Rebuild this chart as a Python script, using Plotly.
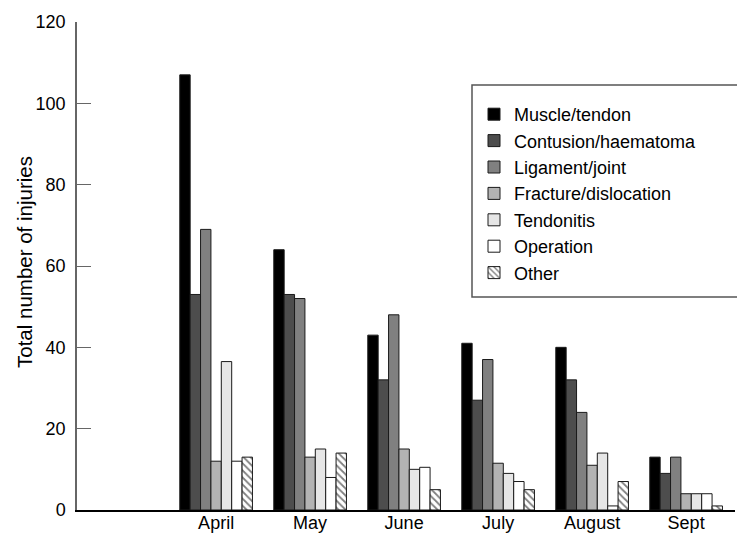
import plotly.graph_objects as go

months = ["April", "May", "June", "July", "August", "Sept"]
categories = ["Muscle/tendon", "Contusion/haematoma", "Ligament/joint",
              "Fracture/dislocation", "Tendonitis", "Operation", "Other"]

muscle_tendon = [107, 64, 43, 41, 40, 13]
contusion_haematoma = [53, 53, 32, 27, 32, 9]
ligament_joint = [69, 52, 48, 37, 24, 13]
fracture_dislocation = [12, 13, 15, 11.5, 11, 4]
tendonitis = [36.5, 15, 10, 9, 14, 4]
operation = [12, 8, 10.5, 7, 1, 4]
other = [13, 14, 5, 5, 7, 1]

series = [muscle_tendon, contusion_haematoma, ligament_joint,
          fracture_dislocation, tendonitis, operation, other]
colors = ["#000000", "#4d4d4d", "#808080", "#b3b3b3", "#e6e6e6", "#ffffff", "#ffffff"]

x_pos = list(range(1, len(months) + 1))

FONT = "Liberation Sans, Arial, Helvetica, sans-serif"

fig = go.Figure()
for name, vals, col in zip(categories, series, colors):
    marker = dict(color=col, line=dict(color="#1a1a1a", width=1))
    if name == "Other":
        marker["pattern"] = dict(shape="\\", fgcolor="#000000", bgcolor="#ffffff",
                                 size=5, solidity=0.35)
    fig.add_trace(go.Bar(x=x_pos, y=vals, name=name, marker=marker))

W, H = 737, 533
L, R, T, B = 77, 2, 22, 23
pw, ph = W - L - R, H - T - B

def px_x(px):
    return (px - L) / pw

def px_y(py):
    return (H - B - py) / ph

fig.update_layout(
    width=W, height=H,
    margin=dict(l=L, r=R, t=T, b=B, autoexpand=False),
    paper_bgcolor="white", plot_bgcolor="white",
    barmode="group", bargap=0.227, bargroupgap=0,
    font=dict(family=FONT, color="#000000"),
    showlegend=True,
    legend=dict(x=px_x(474), y=px_y(96), xanchor="left", yanchor="top",
                bgcolor="rgba(0,0,0,0)", borderwidth=0,
                font=dict(size=18, family=FONT), tracegroupgap=0,
                traceorder="normal"),
    xaxis=dict(range=[-0.48, 6.52], tickvals=x_pos, ticktext=months,
               showgrid=False, zeroline=False, ticks="",
               showline=True, linecolor="#000000", linewidth=1.5,
               ticklabelstandoff=-4,
               tickfont=dict(size=18, family=FONT)),
    yaxis=dict(range=[0, 120], tickvals=[0, 20, 40, 60, 80, 100, 120],
               showgrid=False, zeroline=False,
               ticks="inside", ticklen=14, tickcolor="#666666", tickwidth=1,
               showline=True, linecolor="#666666", linewidth=1.5,
               ticklabelstandoff=6,
               tickfont=dict(size=18, family=FONT)),
    shapes=[dict(type="rect", xref="paper", yref="paper",
                 x0=px_x(472), x1=px_x(745), y0=px_y(297), y1=px_y(85),
                 line=dict(color="#555555", width=1.5), fillcolor="rgba(0,0,0,0)")],
    annotations=[dict(text="Total number of injuries", xref="paper", yref="paper",
                      x=px_x(24), y=px_y(262), xanchor="center", yanchor="middle",
                      textangle=-90, showarrow=False,
                      font=dict(size=20.5, family=FONT))],
)

fig.write_html("out.html", config={"displayModeBar": False},
               post_script="document.body.style.margin='0';document.body.style.padding='0';")
